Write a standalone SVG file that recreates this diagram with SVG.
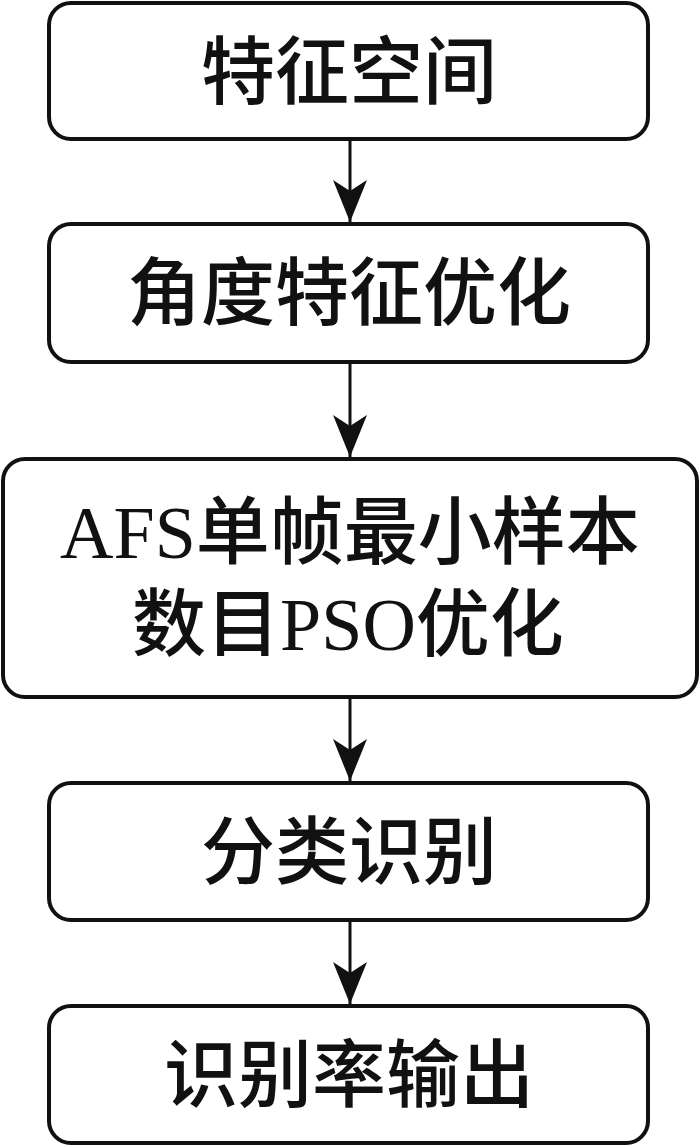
<svg xmlns="http://www.w3.org/2000/svg" width="700" height="1147" viewBox="0 0 700 1147">
<defs>
<style>
.box{fill:#fff;stroke:#111;stroke-width:4}
.t{font-family:"Liberation Serif","Noto Sans CJK SC",serif;font-size:74px;font-weight:500;fill:#111;text-anchor:middle}
.c{stroke:#111;stroke-width:3;fill:none}
</style>
<marker id="ah" viewBox="0 0 42 34" refX="42" refY="17" markerWidth="42" markerHeight="34" markerUnits="userSpaceOnUse" orient="auto">
<path d="M0,0 L11,17 L0,34 L42,17 Z" fill="#111"/>
</marker>
</defs>
<rect width="700" height="1147" fill="#fff"/>
<g id="n1"><rect class="box" x="49" y="3" width="599" height="136" rx="22"/><text class="t" x="349" y="98">特征空间</text></g>
<g id="n2"><rect class="box" x="49" y="224" width="599" height="138" rx="22"/><text class="t" x="349" y="319">角度特征优化</text></g>
<g id="n3"><rect class="box" x="3" y="459" width="694" height="238" rx="22"/><text class="t" x="350" y="558">AFS单帧最小样本</text><text class="t" x="348" y="650">数目PSO优化</text></g>
<g id="n4"><rect class="box" x="49" y="783" width="599" height="137" rx="22"/><text class="t" x="349" y="878">分类识别</text></g>
<g id="n5"><rect class="box" x="49" y="1006" width="599" height="137" rx="22"/><text class="t" x="349" y="1101">识别率输出</text></g>
<g id="connectors">
<path class="c" d="M350,139 V222" marker-end="url(#ah)"/>
<path class="c" d="M350,362 V457" marker-end="url(#ah)"/>
<path class="c" d="M350,697 V781" marker-end="url(#ah)"/>
<path class="c" d="M350,920 V1004" marker-end="url(#ah)"/>
</g>
</svg>
